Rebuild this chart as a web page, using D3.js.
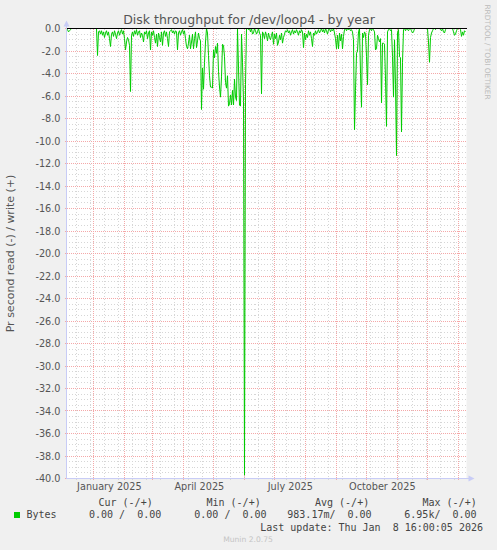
<!DOCTYPE html>
<html><head><meta charset="utf-8">
<script src="https://cdn.jsdelivr.net/npm/d3@7"></script>
<style>
html,body{margin:0;padding:0;background:#f0f0f0;}
svg{display:block;}
</style></head><body>
<svg id="chart" width="497" height="550"></svg>
<script>
// ---------- data ----------
const title = "Disk throughput for /dev/loop4 - by year";
const yAxisLabel = "Pr second read (-) / write (+)";
const seriesName = "Bytes";
const seriesColor = "#00cc00";
const startTime = "2024-12-04T16:00:00Z";
const endTime = "2026-01-08T16:00:00Z";
// one value per day, read (shown negative)
const readValues = [
  0,-0.1,-0.3,-0.2,-0.1,0,0,0,0,0,
  0,0,0,0,0,0,0,0,0,0,
  0,0,0,0,0,0,0,0,0,0,
  0,-2.4,-0.3,-0.2,-0.5,-0.2,-0.6,-0.3,-0.8,-0.4,
  -0.2,-0.6,-0.3,-0.9,-1.6,-0.5,-0.3,-0.7,-0.2,-0.5,
  -0.9,-0.4,-0.2,-0.6,-0.3,-0.1,-0.5,-0.2,-0.9,-1.9,
  -1.2,-0.8,-1.0,-1.5,-5.6,-0.6,-0.3,-0.7,-0.2,-0.5,
  -0.1,-0.6,-0.3,-0.2,-0.8,-0.4,-0.6,-1.2,-0.3,-0.5,
  -0.2,-0.9,-0.4,-0.2,-1.9,-0.3,-0.6,-0.2,-0.8,-1.3,
  -0.5,-1.6,-0.4,-0.8,-1.2,-0.3,-1.5,-0.4,-0.2,-0.7,
  -0.3,-0.9,-1.6,-0.3,-0.2,-0.1,-0.4,-0.2,-0.5,-0.2,
  -0.3,-1.9,-0.4,-0.2,-0.6,-0.3,-0.1,-0.5,-0.2,-0.9,
  -1.6,-1.8,-1.3,-0.6,-1.8,-1.2,-0.5,-1.8,-0.9,-0.3,
  -1.7,-1.1,-0.4,-0.9,-1.1,-7.2,-3.5,-5.4,-3.0,-1.2,
  0,-0.4,-2.4,-4.2,-5.2,-5.2,-5.3,-1.9,-2.6,-1.6,
  -2.2,-1.3,-3.8,-5.2,-6.1,-4.3,-1.4,-1.5,-2.5,-4.8,
  -5.3,-4.2,-6.9,-6.7,-5.9,-6.8,-5.5,-6.8,-4.5,-6.1,
  -6.4,0,-3.5,-6.8,-6.9,-0.5,-3.0,-6.5,-39.7,-5.0,
  0,0,-0.1,0,-0.3,0,-0.5,-0.4,0,-0.2,
  -0.5,-0.3,0,-0.4,-0.6,-5.8,-0.3,-0.5,-0.9,-0.3,
  -0.6,-1.1,-0.4,-0.8,-1.0,-0.6,-0.3,-1.4,-0.5,-0.9,
  -0.4,-1.5,-1.2,-0.6,-1.0,-0.4,-1.3,-0.8,-0.5,-0.2,
  -0.3,-0.1,-0.4,-0.2,-0.6,-0.3,-0.1,-0.5,-0.2,-0.4,
  -0.1,-0.3,-0.6,-0.2,-0.4,-0.1,-0.3,-1.7,-0.4,-1.0,
  -0.5,-0.8,-0.2,-0.6,-0.3,-0.9,-1.6,-0.4,-0.6,-0.2,
  -0.5,-0.3,-0.1,-0.4,-0.2,0,-0.3,-0.1,-0.4,0,
  -0.2,-0.5,-0.1,0,-0.3,-0.1,-0.2,0,-0.4,-0.9,
  -1.8,-0.6,-1.8,-0.4,-1.1,-0.5,-1.8,-0.7,-0.1,0,
  -0.2,0,-0.1,0,-0.2,-0.1,-0.3,-1.0,-9.0,-5.5,
  -2.2,-2.0,-0.3,0,-4.0,-7.0,-0.4,-0.8,-0.3,-0.5,
  -2.5,-5.0,-0.6,-0.1,0,-0.2,0,-0.1,-0.3,-1.9,
  -1.8,-0.6,-0.9,-1.2,-0.9,-6.6,-1.3,-1.3,-1.4,-4.5,
  -8.7,-0.3,-0.1,0,-0.2,-0.1,-2.5,-6.1,-1.0,-5.0,
  -11.3,-0.4,-0.1,-2.5,-2.6,-9.2,-3.0,-0.1,0,-0.2,
  0,-0.1,-0.2,0,0,-0.2,-0.4,-0.3,0,0,
  0,0,0,0,0,0,0,0,0,0,
  0,0,-1.2,-3.0,-0.8,-0.4,-0.2,0,0,-0.1,
  0,0,0,0,-0.1,-0.2,0,-0.3,-0.4,-0.1,
  0,0,0,0,0,0,0,-0.3,-0.6,-0.5,
  -0.2,0,0,0,-0.1,-0.7,-0.3,-0.6,-0.2,-0.3
];
const yDomain = [-40, 0];
const yTicks = [0,-2,-4,-6,-8,-10,-12,-14,-16,-18,-20,-22,-24,-26,-28,-30,-32,-34,-36,-38,-40];
const yMinorStep = 0.5;
const monthLines = ["2025-01-01","2025-02-01","2025-03-01","2025-04-01","2025-05-01","2025-06-01",
  "2025-07-01","2025-08-01","2025-09-01","2025-10-01","2025-11-01","2025-12-01","2026-01-01"];
const minorLines = ["2024-12-15","2024-12-29","2025-01-12","2025-01-26","2025-02-09","2025-02-23",
  "2025-03-09","2025-03-23","2025-04-06","2025-04-20","2025-05-04","2025-05-18","2025-06-01",
  "2025-06-15","2025-06-29","2025-07-13","2025-07-27","2025-08-10","2025-08-24","2025-09-07",
  "2025-09-21","2025-10-05","2025-10-19","2025-11-02","2025-11-16","2025-11-30","2025-12-14","2025-12-28"];
const xLabelDates = ["2025-01-16","2025-04-16","2025-07-16","2025-10-16"];
const xLabelTexts = ["January 2025","April 2025","July 2025","October 2025"];
const legendHeaders = ["Cur (-/+)","Min (-/+)","Avg (-/+)","Max (-/+)"];
const legendValues = ["0.00 /  0.00","0.00 /  0.00","983.17m/  0.00","6.95k/  0.00"];
const lastUpdate = "Last update: Thu Jan  8 16:00:05 2026";
const footer = "Munin 2.0.75";
const watermark = "RRDTOOL / TOBI OETIKER";

// ---------- layout ----------
const svg = d3.select("#chart");
const X0 = 66.5, X1 = 466.5, YT = 28.5, YB = 478.5;
const sans = "'DejaVu Sans', sans-serif";
const mono = "'DejaVu Sans Mono', monospace";
const keep = s => s.replace(/ /g, "\u00A0");
const t0 = new Date(startTime), t1 = new Date(endTime);
const x = d3.scaleUtc().domain([t0, t1]).range([X0, X1]);
const y = d3.scaleLinear().domain(yDomain).range([YB, YT]);
const px = v => Math.floor(v) + 0.5;

const data = readValues.map((v, i) => ({ t: d3.utcDay.offset(t0, i), v }));

svg.append("rect").attr("width", 497).attr("height", 550).attr("fill", "#f0f0f0");
svg.append("rect").attr("x", X0).attr("y", YT).attr("width", X1 - X0).attr("height", YB - YT).attr("fill", "#ffffff");

const grid = svg.append("g").attr("shape-rendering", "crispEdges");
const minorColor = "#d6d6d6", majorColor = "#f4a8a8";
// minor horizontal
const minorY = d3.range(yDomain[0], yDomain[1] + 0.001, yMinorStep).filter(v => Math.abs(v / 2 - Math.round(v / 2)) > 1e-6);
grid.selectAll("line.hmin").data(minorY).join("line")
  .attr("x1", X0 - 1).attr("x2", X1).attr("y1", d => px(y(d))).attr("y2", d => px(y(d)))
  .attr("stroke", minorColor).attr("stroke-dasharray", "1,2");
// minor vertical
grid.selectAll("line.vmin").data(minorLines.map(d => new Date(d + "T00:00:00Z"))).join("line")
  .attr("x1", d => px(x(d))).attr("x2", d => px(x(d))).attr("y1", YT).attr("y2", YB + 1)
  .attr("stroke", minorColor).attr("stroke-dasharray", "1,2");
// major horizontal
grid.selectAll("line.hmaj").data(yTicks).join("line")
  .attr("x1", X0 - 2).attr("x2", X1).attr("y1", d => px(y(d))).attr("y2", d => px(y(d)))
  .attr("stroke", majorColor).attr("stroke-dasharray", "1,1");
// major vertical
grid.selectAll("line.vmaj").data(monthLines.map(d => new Date(d + "T00:00:00Z"))).join("line")
  .attr("x1", d => px(x(d))).attr("x2", d => px(x(d))).attr("y1", YT).attr("y2", YB + 2)
  .attr("stroke", majorColor).attr("stroke-dasharray", "1,1");

// data line
const line = d3.line().x(d => x(d.t)).y(d => y(d.v));
svg.append("path").datum(data).attr("d", line)
  .attr("fill", "none").attr("stroke", seriesColor).attr("stroke-width", 1);

// zero rule
svg.append("line").attr("x1", X0).attr("x2", X1).attr("y1", px(y(0))).attr("y2", px(y(0)))
  .attr("stroke", "#000").attr("stroke-width", 1).attr("shape-rendering", "crispEdges");

// axes lines + arrows
const axisColor = "#c8ccf6";
svg.append("line").attr("x1", X0).attr("x2", X0).attr("y1", YT - 4).attr("y2", YB)
  .attr("stroke", axisColor).attr("shape-rendering", "crispEdges");
svg.append("line").attr("x1", X0).attr("x2", X1 + 4).attr("y1", YB).attr("y2", YB)
  .attr("stroke", axisColor).attr("shape-rendering", "crispEdges");
svg.append("path").attr("d", `M${X0 - 3},${YT - 2} L${X0 + 3},${YT - 2} L${X0},${YT - 8} Z`).attr("fill", axisColor);
svg.append("path").attr("d", `M${X1 + 2},${YB - 3} L${X1 + 2},${YB + 3} L${X1 + 8},${YB} Z`).attr("fill", axisColor);

// y axis labels
const yAxis = d3.axisLeft(y).tickValues(yTicks).tickFormat(v => v.toFixed(1)).tickSize(0).tickPadding(6);
const gy = svg.append("g").attr("transform", `translate(${X0},0)`).call(yAxis);
gy.select(".domain").remove();
gy.selectAll("text").attr("font-family", sans).attr("font-size", "9.7px").attr("fill", "#555");

// x axis labels
const xAxis = d3.axisBottom(x).tickValues(xLabelDates.map(d => new Date(d + "T00:00:00Z")))
  .tickFormat((d, i) => xLabelTexts[i]).tickSize(0).tickPadding(5);
const gx = svg.append("g").attr("transform", `translate(0,${YB})`).call(xAxis);
gx.select(".domain").remove();
gx.selectAll("text").attr("font-family", sans).attr("font-size", "9.7px").attr("fill", "#555");

// title
svg.append("text").attr("x", 249).attr("y", 24).attr("text-anchor", "middle")
  .attr("font-family", sans).attr("font-size", "12.5px").attr("fill", "#555").text(title);
// y label
svg.append("text").attr("transform", `translate(14,${(YT + YB) / 2}) rotate(-90)`).attr("text-anchor", "middle")
  .attr("font-family", sans).attr("font-size", "11px").attr("fill", "#555").text(yAxisLabel);
// watermark
svg.append("text").attr("transform", `translate(485,52) rotate(90)`).attr("text-anchor", "middle")
  .attr("font-family", sans).attr("font-size", "7.4px").attr("fill", "#bbb").text(watermark);

// legend
const legX = [98.5, 206.5, 315, 422.5];
const valX = [89, 194.3, 287.3, 404.3];
const lg = svg.append("g").attr("font-family", mono).attr("font-size", "10px").attr("fill", "#444");
lg.selectAll("text.h").data(legendHeaders).join("text")
  .attr("x", (d, i) => legX[i]).attr("y", 506).text(d => keep(d));
lg.selectAll("text.v").data(legendValues).join("text")
  .attr("x", (d, i) => valX[i]).attr("y", 518).text(d => keep(d));
lg.append("text").attr("x", 26.5).attr("y", 518).text(seriesName);
lg.append("text").attr("x", 483).attr("y", 530.5).attr("text-anchor", "end").text(keep(lastUpdate));
svg.append("rect").attr("x", 14).attr("y", 512).attr("width", 6).attr("height", 6).attr("fill", seriesColor);

svg.append("text").attr("x", 248).attr("y", 542).attr("text-anchor", "middle")
  .attr("font-family", sans).attr("font-size", "7.6px").attr("fill", "#c4c4c4").text(footer);
</script>
</body></html>
